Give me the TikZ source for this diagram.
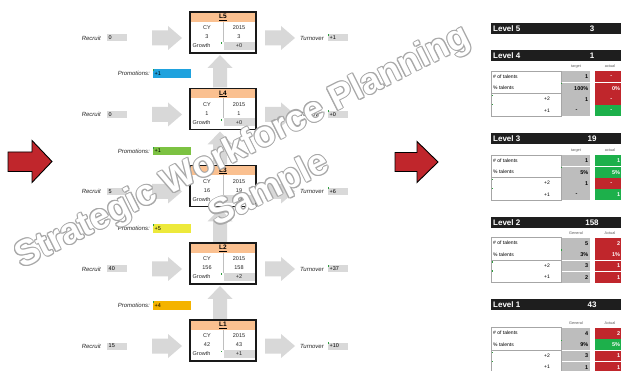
\documentclass[tikz,border=0pt]{standalone}
\usepackage{fontspec}
\setmainfont{Liberation Sans}
\definecolor{peach}{HTML}{FAC090}
\definecolor{cellgray}{HTML}{D9D9D9}
\definecolor{tgray}{HTML}{BDBDBD}
\definecolor{pblue}{HTML}{1FA2DE}
\definecolor{pgreen}{HTML}{7CC242}
\definecolor{pyellow}{HTML}{EDE93B}
\definecolor{porange}{HTML}{F4B300}
\definecolor{bred}{HTML}{C0262C}
\definecolor{okgreen}{HTML}{1DB04B}
\definecolor{barblack}{HTML}{1E1E1E}
\definecolor{arrowgray}{HTML}{D8D8D8}
\definecolor{tickgreen}{HTML}{2E9E3E}
\definecolor{wmline}{HTML}{A8A8A8}
\tikzset{
  cell/.style={font=\fontsize{5.5}{6}\selectfont, inner sep=0, text=black!85},
  hdr/.style={font=\fontsize{6.5}{7}\selectfont\bfseries, inner sep=0},
  lab/.style={font=\fontsize{6}{7}\selectfont\itshape, inner sep=0, text=black!85},
  lvbox/.style={draw=black!90, line width=1.3pt, minimum width=66pt, minimum height=41pt, inner sep=0},
  vbox/.style={fill=cellgray, minimum width=20pt, minimum height=7pt, text width=17pt, inner xsep=1.5pt, inner ysep=0, align=left, font=\fontsize{5.5}{6}\selectfont},
  pbox/.style={minimum width=38pt, minimum height=8.5pt, text width=35pt, inner xsep=1.5pt, inner ysep=0, align=left, font=\fontsize{5.5}{6}\selectfont},
  garrow/.style={fill=arrowgray},
  redarrow/.style={fill=bred, draw=black, line width=0.9pt, line join=miter},
  tick/.style={fill=tickgreen},
  bartxt/.style={font=\fontsize{8}{9}\selectfont\bfseries, text=white, inner sep=0},
  thdr/.style={font=\fontsize{3.8}{4}\selectfont, text=black!65, inner sep=0},
  tline/.style={draw=black!35, line width=0.5pt},
  tlab/.style={font=\fontsize{5}{6}\selectfont, inner sep=0},
  tnum/.style={font=\fontsize{5.5}{6}\selectfont\bfseries, inner sep=0},
  tact/.style={font=\fontsize{5.5}{6}\selectfont\bfseries, text=white, inner sep=0},
  tn/.style={anchor=east}, tc/.style={anchor=center, xshift=-12pt},
  an/.style={anchor=east}, ac/.style={anchor=center, xshift=-9pt},
  wm/.style={font=\fontsize{36}{40}\selectfont\bfseries, rotate=26.6, inner sep=0},
}
\newcommand\rarr[2]{%
  \fill[garrow] (#1,#2-7.5) -- (#1+16,#2-7.5) -- (#1+16,#2-12) -- (#1+30,#2) -- (#1+16,#2+12) -- (#1+16,#2+7.5) -- (#1,#2+7.5) -- cycle;}
\newcommand\uarr[2]{%
  \fill[garrow] (213,#1) -- (213,#2+13) -- (207.5,#2+13) -- (220,#2) -- (232.5,#2+13) -- (227,#2+13) -- (227,#1) -- cycle;}
\newcommand\level[8]{%
\begin{scope}[shift={(0,#2)}]
  \rarr{152}{26}
  \rarr{265}{26}
  \fill[white] (190,0) rectangle (256,41);
  \fill[peach] (190,0) rectangle (256,10);
  \fill[cellgray] (224,30) rectangle (254.5,38);
  \draw[black!25, line width=0.4pt] (223,10) -- (223,30);
  \node[hdr] at (223,5.3) {\underline{#3}};
  \node[cell] at (207,16) {CY};
  \node[cell] at (239,16) {2015};
  \node[cell] at (207,25) {#4};
  \node[cell] at (239,25) {#5};
  \node[cell, anchor=west] at (192.5,34) {Growth};
  \node[cell] at (239,34) {#6};
  \fill[tick] (220.5,30.5) rectangle (221.7,32.2);
  \node[lvbox] (#1) at (223,20.5) {};
  \node[lab, anchor=east] (#1rl) at (101,26) {Recruit};
  \node[vbox, anchor=west] (#1rv) at (107,26) {#7};
  \node[lab, anchor=west] (#1tl) at (300,26) {Turnover};
  \node[vbox, anchor=west] (#1tv) at (328,26) {#8};
  \fill[tick] (327.6,22) rectangle (328.8,24);
\end{scope}}
\newcommand\promo[4]{%
  \node[lab, anchor=east] (#1l) at (150,#2) {Promotions:};
  \node[pbox, fill=#3, anchor=west] (#1v) at (153,#2) {#4};
  \fill[tick] (153,#2-4.3) rectangle (154.2,#2-2.3);}
\newcommand\lvbar[4]{%
  \fill[barblack] (491,#2) rectangle (630,#2+11.5);
  \node[bartxt, anchor=west] (#1) at (493,#2+5.9) {#3};
  \node[bartxt] (#1n) at (592,#2+5.9) {#4};}
\newcommand\ttable[3]{%
  \node[thdr] at (576,#1-4.5) {#2};
  \node[thdr] at (610,#1-4.5) {#3};
  \draw[tline, fill=white] (491,#1) rectangle (561,#1+22.6);
  \draw[tline, fill=white] (491,#1+22.6) rectangle (561,#1+45.2);
  \node[tlab, anchor=west] at (493,#1+5.65) {\# of talents};
  \node[tlab, anchor=west] at (493,#1+16.95) {\% talents};
  \node[tlab, anchor=east] at (550,#1+28.25) {+2};
  \node[tlab, anchor=east] at (550,#1+39.55) {+1};
  \fill[tick] (561,#1+12) rectangle (562,#1+13.5);
  \fill[tick] (491.5,#1+24) rectangle (492.5,#1+25.5);
  \fill[tick] (491.5,#1+33) rectangle (492.5,#1+34.5);}
\newcommand\trow[6]{%
  \fill[tgray] (562,#1+0.5) rectangle (590,#1+11.3);
  \fill[#4] (595,#1+0.5) rectangle (630,#1+11.3);
  \node[tnum,#3] at (588.5,#1+5.9) {#2};
  \node[tact,#6] at (620.3,#1+5.9) {#5};}
\begin{document}
\begin{tikzpicture}[x=1pt,y=-1pt]
\useasboundingbox (0,0) rectangle (621,371);
\clip (0,0) rectangle (621,371);
\fill[white] (0,0) rectangle (621,371);

% up arrows (promotions)
\uarr{87.5}{55}
\uarr{164.5}{131.5}
\uarr{242}{208.5}
\uarr{319}{286}

% levels
\level{L5}{12}{L5}{3}{3}{+0}{0}{+1}
\level{L4}{88.5}{L4}{1}{1}{+0}{0}{+0}
\level{L3}{165.5}{L3}{16}{19}{+3}{5}{+6}
\level{L2}{243}{L2}{156}{158}{+2}{40}{+37}
\level{L1}{320}{L1}{42}{43}{+1}{15}{+10}

\promo{P45}{73.5}{pblue}{+1}
\promo{P34}{151}{pgreen}{+1}
\promo{P23}{228.5}{pyellow}{+5}
\promo{P12}{305.5}{porange}{+4}

% big red arrows
\draw[redarrow] (8,152) -- (32,152) -- (32,140.5) -- (52,161.5) -- (32,182.5) -- (32,171.5) -- (8,171.5) -- cycle;
\draw[redarrow] (395,152.5) -- (417,152.5) -- (417,141.5) -- (438,162) -- (417,182.5) -- (417,171.5) -- (395,171.5) -- cycle;

% right panel
\lvbar{B5}{23}{Level 5}{3}
\lvbar{B4}{50}{Level 4}{1}
\ttable{71}{target}{actual}
\trow{71}{1}{tn}{bred}{-}{ac}
\trow{82.3}{100\%}{tn}{bred}{0\%}{an}
\trow{93.6}{1}{tn}{bred}{-}{ac}
\trow{104.9}{-}{tc}{okgreen}{-}{ac}

\lvbar{B3}{133}{Level 3}{19}
\ttable{155}{target}{actual}
\trow{155}{1}{tn}{okgreen}{1}{an}
\trow{166.3}{5\%}{tn}{okgreen}{5\%}{an}
\trow{177.6}{1}{tn}{bred}{-}{ac}
\trow{188.9}{-}{tc}{okgreen}{1}{an}

\lvbar{B2}{217}{Level 2}{158}
\ttable{237.5}{General}{Actual}
\trow{237.5}{5}{tn}{bred}{2}{an}
\trow{248.8}{3\%}{tn}{bred}{1\%}{an}
\trow{260.1}{3}{tn}{bred}{1}{an}
\trow{271.4}{2}{tn}{bred}{1}{an}

\lvbar{B1}{299}{Level 1}{43}
\ttable{327.5}{General}{Actual}
\trow{327.5}{4}{tn}{bred}{2}{an}
\trow{338.8}{9\%}{tn}{okgreen}{5\%}{an}
\trow{350.1}{3}{tn}{bred}{1}{an}
\trow{361.4}{1}{tn}{bred}{1}{an}

% watermark (outlined lettering)
\foreach \a in {0,45,...,315}{
  \node[wm, text=wmline, shift={(\a:1.1)}] at (243,148) {Strategic Workforce Planning};
  \node[wm, text=wmline, shift={(\a:1.1)}] at (270,190) {Sample};
}
\node[wm, text=white] (wm1) at (243,148) {Strategic Workforce Planning};
\node[wm, text=white] (wm2) at (270,190) {Sample};
\end{tikzpicture}
\end{document}
